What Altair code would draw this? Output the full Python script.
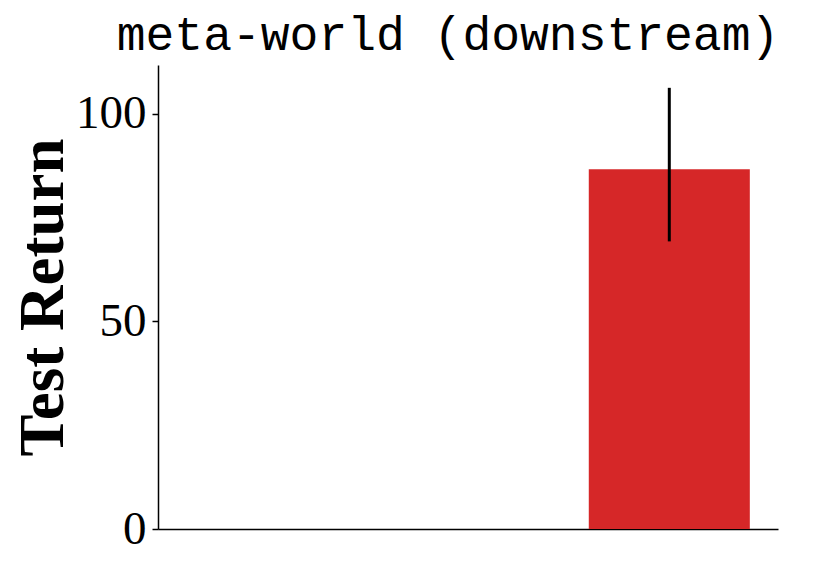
import altair as alt
import pandas as pd

positions = [0, 1, 2]
means = [0.0, 0.0, 86.7]
err_low = [0.0, 0.0, 69.3]
err_high = [0.0, 0.0, 106.3]
colors = ["#1f77b4", "#ff7f0e", "#d62728"]
y_ticks = [0, 50, 100]

df = pd.DataFrame({
    "pos": positions,
    "mean": means,
    "lo": err_low,
    "hi": err_high,
    "color": colors,
})
df["left"] = df["pos"] - 0.4
df["right"] = df["pos"] + 0.4
df["base"] = 0.0

xscale = alt.Scale(domain=[-0.54, 2.54], nice=False, zero=False)
yscale = alt.Scale(domain=[0, 111.8], nice=False)

xaxis = alt.Axis(title=None, labels=False, ticks=False, grid=False,
                 domainColor="black", domainWidth=1.5)
yaxis = alt.Axis(title="Test Return", values=y_ticks, grid=False,
                 domainColor="black", domainWidth=1.5,
                 tickColor="black", tickWidth=1.5, tickSize=6,
                 labelFont="Liberation Serif", labelFontSize=47, labelColor="black",
                 labelPadding=6,
                 titleFont="Liberation Serif", titleFontSize=63, titleFontWeight="bold",
                 titleColor="black", titlePadding=0)

bars = alt.Chart(df[df["mean"] > 0]).mark_bar().encode(
    x=alt.X("left:Q", scale=xscale, axis=xaxis),
    x2="right:Q",
    y=alt.Y("mean:Q", scale=yscale, axis=yaxis),
    y2="base:Q",
    color=alt.Color("color:N", scale=None),
)

errs = alt.Chart(df[df["hi"] > df["lo"]]).mark_rule(color="black", strokeWidth=3).encode(
    x=alt.X("pos:Q", scale=xscale),
    y=alt.Y("lo:Q", scale=yscale),
    y2="hi:Q",
)

chart = alt.layer(bars, errs).properties(
    width=620,
    height=464,
    title=alt.TitleParams("meta-world (downstream)", font="Liberation Mono",
                          fontSize=48, fontWeight="normal", color="black",
                          anchor="middle", offset=5, dx=-20),
    autosize=alt.AutoSizeParams(type="none"),
    padding={"left": 150, "top": 57, "right": 30, "bottom": 40},
).configure_view(stroke=None)

chart.save("out.html", embed_options={"renderer": "svg", "actions": False})
